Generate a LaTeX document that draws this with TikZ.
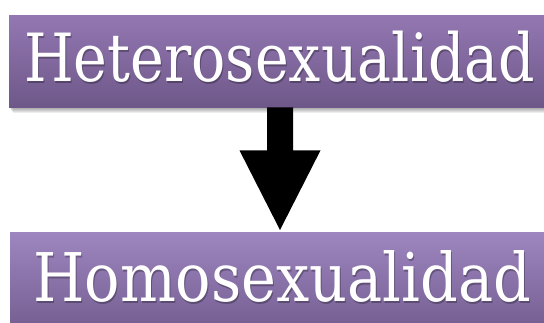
\documentclass[tikz,border=0pt]{standalone}
\usepackage{fontspec}
\usepackage{graphicx}
\setmainfont{DejaVu Serif}
\usetikzlibrary{calc}
\definecolor{ptopa}{HTML}{9377B2}
\definecolor{pbota}{HTML}{6E5889}
\definecolor{ptopb}{HTML}{9E86C0}
\definecolor{pbotb}{HTML}{735D8F}
\newcommand{\fitword}[3]{\resizebox{#1}{#2}{#3}}
\tikzset{
  pbox/.style={rectangle, draw=none, inner sep=0pt, anchor=north west},
  ptext/.style={text=white, inner sep=0pt, anchor=base west},
  tshadow/.style={text=black, opacity=0.28, inner sep=0pt, anchor=base west},
  bshadow/.style={fill=black, opacity=0.07},
  blockarrow/.style={fill=black, draw=none}
}
\begin{document}
\begin{tikzpicture}[x=1pt,y=-1pt]
\useasboundingbox (0,0) rectangle (544,322);
\clip (0,0) rectangle (544,322);
% box shadows
\foreach \i in {1,...,6}{
  \fill[bshadow] (9+\i*0.6,15+\i) rectangle (560,107+\i);
  \fill[bshadow] (10+\i*0.6,232+\i) rectangle (560,340);
}
% boxes
\node[pbox, minimum width=551pt, minimum height=92pt, top color=ptopa, bottom color=pbota] (hetbox) at (9,15) {};
\node[pbox, minimum width=550pt, minimum height=100pt, top color=ptopb, bottom color=pbotb] (homobox) at (10,232) {};
% texts
\node[tshadow] (hetshadow) at (25,83) {\fitword{511pt}{50.5pt}{Heterosexualidad}};
\node[ptext] (hettext) at (24,81.7) {\fitword{511pt}{50.5pt}{Heterosexualidad}};
\node[tshadow] (homoshadow) at (34,303) {\fitword{498pt}{51pt}{Homosexualidad}};
\node[ptext] (homotext) at (33,301.7) {\fitword{498pt}{51pt}{Homosexualidad}};
% block arrow
\coordinate (axis) at (280,0);
\coordinate (s) at (hetbox.south -| axis);
\coordinate (t) at ($(homobox.north -| axis)+(0,-2)$);
\fill[blockarrow] ($(s)+(-13,0)$) -- ($(s)+(13,0)$) -- ($(s)+(13,43)$) -- ($(s)+(40.5,43)$)
  -- (t) -- ($(s)+(-40.5,43)$) -- ($(s)+(-13,43)$) -- cycle;
\end{tikzpicture}
\end{document}
